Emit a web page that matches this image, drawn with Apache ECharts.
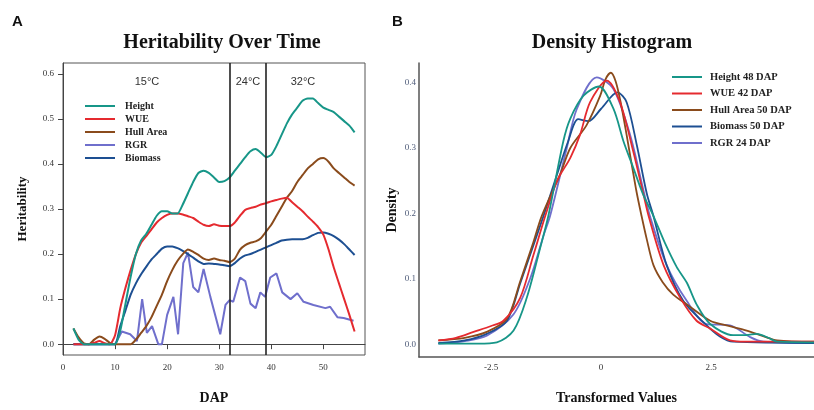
<!DOCTYPE html>
<html><head><meta charset="utf-8">
<script src="https://cdn.jsdelivr.net/npm/echarts@6/dist/echarts.min.js"></script>
<style>html,body{margin:0;padding:0;background:#fff}#c{width:814px;height:410px}</style>
</head><body><div id="c"></div>
<script>
// ---- Panel A data ----
const dapX = [2,3,4,5,6,7,8,9,10,11,12,13,14,15,16,17,18,19,20,21,22,23,24,25,26,27,28,29,30,31,32,33,34,35,36,37,38,39,40,41,42,43,44,45,46,47,48,49,50,51,52,53,54,55,56];
const heightH = [0.035,0.01,0,0,0,0,0,0,0,0.03,0.09,0.15,0.2,0.23,0.245,0.265,0.285,0.295,0.295,0.29,0.29,0.31,0.335,0.36,0.38,0.385,0.38,0.37,0.36,0.362,0.37,0.385,0.4,0.415,0.428,0.433,0.425,0.415,0.42,0.44,0.465,0.49,0.51,0.525,0.54,0.545,0.545,0.535,0.525,0.52,0.515,0.505,0.495,0.485,0.47];
const wueH = [0,0,0,0,0.003,0.007,0.002,0,0.02,0.08,0.125,0.165,0.2,0.225,0.24,0.255,0.27,0.28,0.287,0.29,0.29,0.288,0.284,0.28,0.272,0.265,0.262,0.266,0.263,0.262,0.262,0.27,0.285,0.298,0.302,0.305,0.31,0.313,0.317,0.32,0.323,0.325,0.315,0.305,0.295,0.283,0.272,0.26,0.243,0.21,0.17,0.135,0.1,0.065,0.028];
const hullH = [0.035,0.015,0.002,0,0.01,0.017,0.012,0.003,0,0,0,0,0.01,0.025,0.04,0.06,0.085,0.11,0.14,0.165,0.185,0.2,0.21,0.205,0.198,0.19,0.187,0.19,0.187,0.185,0.182,0.19,0.21,0.22,0.225,0.228,0.235,0.25,0.265,0.285,0.305,0.325,0.34,0.36,0.375,0.39,0.4,0.41,0.413,0.405,0.39,0.38,0.37,0.36,0.352];
const biomassH = [0,0,0,0,0,0,0,0,0,0.04,0.075,0.11,0.135,0.155,0.172,0.188,0.2,0.212,0.217,0.217,0.213,0.207,0.2,0.192,0.184,0.178,0.179,0.178,0.177,0.175,0.173,0.18,0.19,0.197,0.2,0.205,0.21,0.215,0.22,0.225,0.23,0.232,0.233,0.233,0.233,0.236,0.242,0.247,0.248,0.245,0.24,0.232,0.222,0.21,0.198];
const rgrX = [2,4,6,8,10,11.3,12.9,14.2,15.2,16.1,17.1,18.3,19,20,21.2,22.1,23.1,24,25,26,27,28.3,30.2,31.2,32,32.7,34,35,36,37,37.9,38.8,39.8,41,42.1,43.7,45,46.2,48.1,50.4,51.3,52.7,53.9,55.8];
const rgrH = [0,0,0,0,0,0.028,0.022,0.007,0.1,0.025,0.04,0,0,0.065,0.105,0.022,0.18,0.203,0.127,0.115,0.167,0.105,0.022,0.087,0.098,0.094,0.148,0.14,0.09,0.08,0.115,0.105,0.148,0.157,0.115,0.1,0.113,0.094,0.087,0.08,0.083,0.06,0.058,0.052];
const tempBreaks = [32, 39];
const tempLabels = ['15°C', '24°C', '32°C'];
const dapTicks = [0,10,20,30,40,50];
const herTicks = [0,0.1,0.2,0.3,0.4,0.5,0.6];

// ---- Panel B data ----
const heightX = [-3.7,-2.8,-2.37,-1.99,-1.69,-1.39,-1.2,-0.86,-0.7,-0.4,-0.05,0.28,0.51,0.73,0.95,1.19,1.45,1.72,1.95,2.17,2.48,3.0,3.3,3.54,3.8,4.0,4.84];
const heightD = [0.001,0.001,0.003,0.021,0.071,0.146,0.196,0.31,0.345,0.38,0.394,0.36,0.31,0.27,0.23,0.196,0.155,0.118,0.094,0.061,0.031,0.014,0.014,0.016,0.01,0.004,0.003];
const wueX = [-3.7,-3.3,-2.9,-2.5,-2.22,-1.84,-1.54,-1.27,-1.0,-0.7,-0.48,-0.25,0.13,0.43,0.73,0.96,1.08,1.42,1.8,2.17,2.48,2.93,3.3,4.84];
const wueD = [0.006,0.01,0.019,0.028,0.036,0.071,0.136,0.196,0.25,0.285,0.32,0.37,0.403,0.37,0.295,0.23,0.196,0.121,0.071,0.036,0.024,0.006,0.004,0.004];
const hullX = [-3.7,-3.1,-2.6,-2.14,-1.84,-1.54,-1.35,-0.93,-0.7,-0.33,-0.02,0.1,0.22,0.33,0.45,0.58,0.8,0.92,1.04,1.19,1.4,1.64,1.95,2.48,2.9,3.31,3.7,4.0,4.84];
const hullD = [0.006,0.01,0.019,0.039,0.096,0.156,0.196,0.26,0.3,0.335,0.38,0.405,0.415,0.402,0.368,0.32,0.235,0.196,0.16,0.121,0.095,0.076,0.061,0.036,0.028,0.021,0.012,0.006,0.004];
const biomassX = [-3.7,-3.1,-2.6,-2.14,-1.84,-1.54,-1.31,-1.0,-0.75,-0.52,-0.29,0.0,0.37,0.58,0.81,1.04,1.19,1.49,1.87,2.4,2.7,3.0,4.84];
const biomassD = [0.002,0.006,0.016,0.036,0.093,0.151,0.196,0.26,0.31,0.344,0.341,0.36,0.385,0.37,0.305,0.23,0.196,0.121,0.066,0.029,0.012,0.004,0.002];
const rgrDX = [-3.7,-3.1,-2.6,-1.99,-1.61,-1.31,-1.16,-0.78,-0.55,-0.1,0.28,0.66,0.96,1.11,1.49,1.95,2.4,2.93,3.39,3.69,4.84];
const rgrD = [0.001,0.005,0.013,0.046,0.101,0.166,0.196,0.3,0.36,0.408,0.39,0.32,0.236,0.196,0.121,0.066,0.031,0.029,0.011,0.004,0.002];
const tvTicks = [-2.5, 0, 2.5];
const denTicks = [0,0.1,0.2,0.3,0.4];

const C = {teal:'#179688', red:'#e52a2f', brown:'#8a4b1c', blue:'#1d4f92', purple:'#6f6fcc'};
const zip = (xs, ys) => xs.map((x, i) => [x, ys[i]]);
const serif = 'Liberation Serif';

const chart = echarts.init(document.getElementById('c'), null, {renderer:'canvas'});
const lineA = (name, xs, ys, color, extra) => Object.assign({
  name, type:'line', xAxisIndex:0, yAxisIndex:0, data: zip(xs, ys), symbol:'none',
  lineStyle:{color, width:2}, itemStyle:{color}, smooth:0.2, z:3
}, extra || {});
const lineB = (name, xs, ys, color) => ({
  name, type:'line', xAxisIndex:1, yAxisIndex:1, data: zip(xs, ys), symbol:'none',
  lineStyle:{color, width:1.8}, itemStyle:{color}, smooth:0.3, z:3
});

chart.setOption({
  animation:false,
  backgroundColor:'#fff',
  title:[
    {text:'Heritability Over Time', left:217, top:28, textAlign:'center',
     textStyle:{fontFamily:serif, fontWeight:'bold', fontSize:20, color:'#111'}},
    {text:'Density Histogram', left:607, top:28, textAlign:'center',
     textStyle:{fontFamily:serif, fontWeight:'bold', fontSize:20, color:'#111'}}
  ],
  graphic:[
    {type:'text', left:12, top:14, style:{text:'A', font:'bold 15px Liberation Sans', fill:'#111'}},
    {type:'text', left:392, top:14, style:{text:'B', font:'bold 15px Liberation Sans', fill:'#111'}},
    {type:'text', x:147, y:82, style:{text:tempLabels[0], font:'11px Liberation Sans', fill:'#333', align:'center', verticalAlign:'middle'}},
    {type:'text', x:248, y:82, style:{text:tempLabels[1], font:'11px Liberation Sans', fill:'#333', align:'center', verticalAlign:'middle'}},
    {type:'text', x:303, y:82, style:{text:tempLabels[2], font:'11px Liberation Sans', fill:'#333', align:'center', verticalAlign:'middle'}}
  ],
  legend:[
    {data:['Height','WUE','Hull Area','RGR','Biomass'], orient:'vertical', left:85, top:100, padding:0,
     itemWidth:30, itemHeight:2, itemGap:1, icon:'rect',
     textStyle:{fontFamily:serif, fontWeight:'bold', fontSize:10, lineHeight:12, color:'#222', padding:[0,0,0,5]}},
    {data:['Height 48 DAP','WUE 42 DAP','Hull Area 50 DAP','Biomass 50 DAP','RGR 24 DAP'], orient:'vertical', left:672, top:71, padding:0,
     itemWidth:30, itemHeight:2, itemGap:4.5, icon:'rect',
     textStyle:{fontFamily:serif, fontWeight:'bold', fontSize:10.5, lineHeight:12, color:'#222', padding:[0,0,0,3]}}
  ],
  grid:[
    {left:63, top:63, width:302, height:298, show:true, borderColor:'#555', borderWidth:1, backgroundColor:'#fff'},
    {left:419, top:63, right:0, bottom:46}
  ],
  xAxis:[
    {gridIndex:0, type:'value', min:0, max:58,
     name:'DAP', nameLocation:'middle', nameGap:36,
     nameTextStyle:{fontFamily:serif, fontWeight:'bold', fontSize:14, color:'#111'},
     axisLine:{show:true, lineStyle:{color:'#444'}},
     axisTick:{show:true, length:5, customValues:dapTicks, lineStyle:{color:'#444'}},
     axisLabel:{customValues:dapTicks, fontFamily:serif, fontSize:9, color:'#333', margin:8},
     splitLine:{show:false}},
    {gridIndex:1, type:'value', min:-4.14, max:4.84,
     name:'Transformed Values', nameLocation:'middle', nameGap:34,
     nameTextStyle:{fontFamily:serif, fontWeight:'bold', fontSize:14, color:'#111'},
     axisLine:{show:true, onZero:false, lineStyle:{color:'#555', width:1.5}},
     axisTick:{show:false, customValues:tvTicks},
     axisLabel:{customValues:tvTicks, fontFamily:serif, fontSize:9, color:'#333', margin:6,
       formatter:v => v === 0 ? '0' : String(v)},
     splitLine:{show:false}}
  ],
  yAxis:[
    {gridIndex:0, type:'value', min:-0.024, max:0.624,
     name:'Heritability', nameLocation:'middle', nameGap:34, nameRotate:90,
     nameTextStyle:{fontFamily:serif, fontWeight:'bold', fontSize:13, color:'#111'},
     axisLine:{show:true, lineStyle:{color:'#444'}},
     axisTick:{show:true, length:5, customValues:herTicks, lineStyle:{color:'#444'}},
     axisLabel:{customValues:herTicks, fontFamily:serif, fontSize:9, color:'#333', margin:9,
       formatter:v => v.toFixed(1)},
     splitLine:{show:false}},
    {gridIndex:1, type:'value', min:-0.0194, max:0.4299,
     name:'Density', nameLocation:'middle', nameGap:20, nameRotate:90,
     nameTextStyle:{fontFamily:serif, fontWeight:'bold', fontSize:14, color:'#111'},
     axisLine:{show:true, onZero:false, lineStyle:{color:'#555', width:1.5}},
     axisTick:{show:false, customValues:denTicks},
     axisLabel:{customValues:denTicks, fontFamily:serif, fontSize:9, color:'#4d5a78', margin:3,
       formatter:v => v.toFixed(1)},
     splitLine:{show:false}}
  ],
  series:[
    lineA('RGR', rgrX, rgrH, C.purple, {smooth:false}),
    lineA('Biomass', dapX, biomassH, C.blue),
    lineA('Hull Area', dapX, hullH, C.brown),
    lineA('WUE', dapX, wueH, C.red),
    lineA('Height', dapX, heightH, C.teal, {
      markLine:{silent:true, symbol:'none', label:{show:false},
        lineStyle:{color:'#222', width:1.6, type:'solid'},
        data: tempBreaks.map(v => ({xAxis:v}))}
    }),
    lineB('RGR 24 DAP', rgrDX, rgrD, C.purple),
    lineB('Biomass 50 DAP', biomassX, biomassD, C.blue),
    lineB('Hull Area 50 DAP', hullX, hullD, C.brown),
    lineB('WUE 42 DAP', wueX, wueD, C.red),
    lineB('Height 48 DAP', heightX, heightD, C.teal)
  ]
});
</script></body></html>
